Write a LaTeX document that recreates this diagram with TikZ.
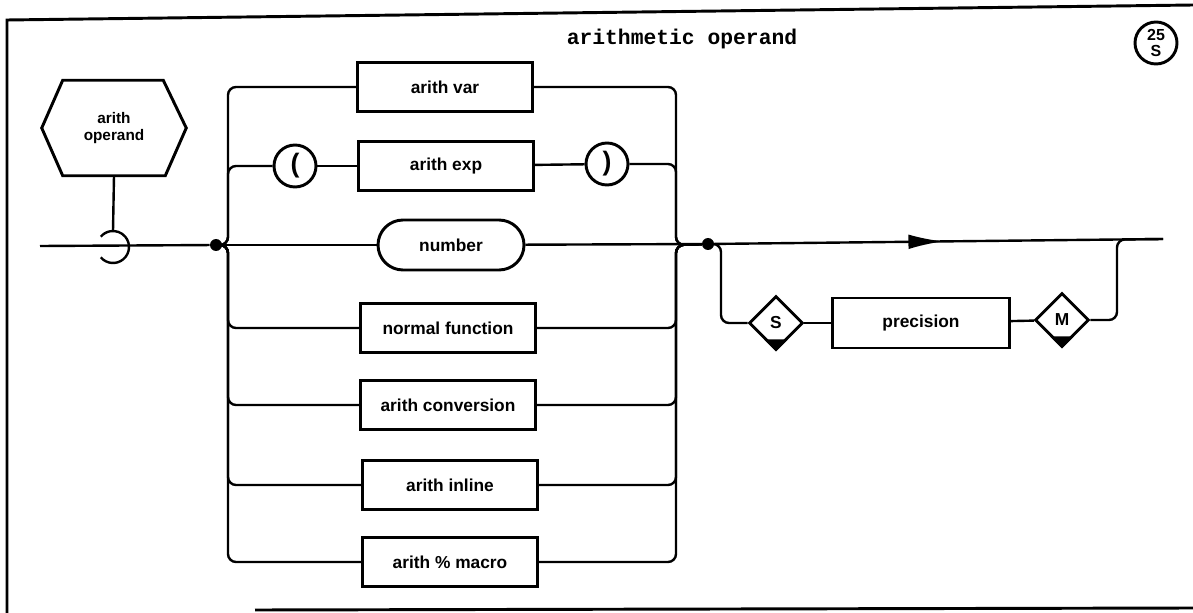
\documentclass[tikz,border=0pt]{standalone}
\usepackage{fontspec}
\setmainfont{Liberation Sans}
\newfontfamily\titlefont{Liberation Mono}
\usetikzlibrary{shapes.geometric,shapes.misc,decorations.markings,arrows.meta,calc}
\tikzset{
  lbl/.style={font=\bfseries\fontsize{13}{15}\selectfont},
  box/.style={draw, line width=2.2pt, minimum width=131.25pt, minimum height=36.75pt, inner sep=0pt, lbl},
  pill/.style={rounded rectangle, draw, line width=2.2pt, minimum width=109.5pt, minimum height=37.5pt, inner sep=0pt, lbl},
  parcirc/.style={circle, draw, line width=2.2pt, minimum size=31.5pt, inner sep=0pt, font=\bfseries\fontsize{20}{20}\selectfont},
  dia/.style={diamond, draw, line width=2.2pt, minimum width=40.5pt, minimum height=40.5pt, inner sep=0pt, lbl},
  conn/.style={line width=1.8pt, rounded corners=6pt},
  jdot/.style={circle, fill, inner sep=0pt, minimum size=9pt},
  frame/.style={line width=2.2pt},
  midarrow/.style={postaction={decorate}, decoration={markings, mark=at position #1 with {\arrow{Latex[length=26pt,width=11pt]}}}}
}
\begin{document}
\begin{tikzpicture}[x=0.75pt,y=-0.75pt]
\useasboundingbox (0,0) rectangle (1193,613);
% frame
\draw[frame] (7,613) -- (7,20) -- (1193,5);
\draw[frame] (255,610) -- (1193,608);
% title and badge
\node[font=\titlefont\bfseries\fontsize{16}{16}\selectfont] (title) at (682,39) {arithmetic operand};
\node[circle, draw, line width=2.2pt, minimum size=31.5pt, inner sep=0pt, align=center, font=\bfseries\fontsize{12}{12.5}\selectfont] (badge) at (1156,43) {25\\S};
% hexagon
\node[align=center, font=\bfseries\fontsize{11.5}{12.75}\selectfont, minimum width=108pt, minimum height=71.25pt, inner sep=0pt] (hex) at (114,128) {arith\\operand};
\draw[line width=2.2pt] (hex.west) -- ($(hex.north west)+(21,0)$) -- ($(hex.north east)+(-23,0)$) -- (hex.east) -- ($(hex.south east)+(-21,0)$) -- ($(hex.south west)+(21,0)$) -- cycle;
% nodes
\node[box] (var) at (445,87) {arith var};
\node[parcirc] (lpar) at (295,166) {(};
\node[box] (exp) at (446,166) {arith exp};
\node[parcirc] (rpar) at (607,164) {)};
\node[pill] (num) at (451,245) {number};
\node[box] (nf) at (448,328) {normal function};
\node[box] (conv) at (448,405) {arith conversion};
\node[box] (inl) at (450,485) {arith inline};
\node[box] (mac) at (450,562) {arith \% macro};
\node[dia] (S) at (776,323) {S};
\node[box, minimum width=132.75pt, minimum height=37.5pt] (prec) at (921,323) {precision};
\node[dia] (M) at (1062,320) {M};
\fill ($(S.south)+(-12,-12)$) -- (S.south) -- ($(S.south)+(12,-12)$) -- cycle;
\fill ($(M.south)+(-12,-12)$) -- (M.south) -- ($(M.south)+(12,-12)$) -- cycle;
% junctions
\node[jdot] (ldot) at (216,245) {};
\node[jdot] (rdot) at (708,244) {};
\coordinate (start) at (40,246);
\coordinate (lrail) at (228,245);
\coordinate (rrail) at (676,245);
\coordinate (sb) at (721,323);
\coordinate (mend) at (1163,239);
\coordinate (mb) at (1117,239.5);
% entry hook
\draw[conn] (hex.south) -- (113,231);
\draw[conn] (113,247) ++(140:16) arc[start angle=140, end angle=-140, radius=16];
% main line
\draw[conn] (start) -- (ldot);
\draw[conn] (ldot) -- (num);
\draw[conn] (num) -- (rdot);
\draw[conn, midarrow=0.51] (rdot) -- (mend);
% left rail branches
\foreach \n in {var,lpar,nf,conv,inl,mac}{
  \draw[conn] (\n.west) -- (\n.west -| lrail) -- (lrail) -- (ldot);
}
% right rail branches
\foreach \n in {var,rpar,nf,conv,inl,mac}{
  \draw[conn] (\n.east) -- (\n.east -| rrail) -- (rrail) -- (rdot);
}
\draw[conn] (lpar) -- (exp);
\draw[conn] (exp) -- (rpar);
% optional precision
\draw[conn] (rdot) -- (rdot -| sb) -- (sb) -- (S.west);
\draw[conn] (S) -- (prec);
\draw[conn] (prec) -- (M);
\draw[conn] (M.east) -- (M.east -| mb) -- (mb) -- (mend);
\end{tikzpicture}
\end{document}
